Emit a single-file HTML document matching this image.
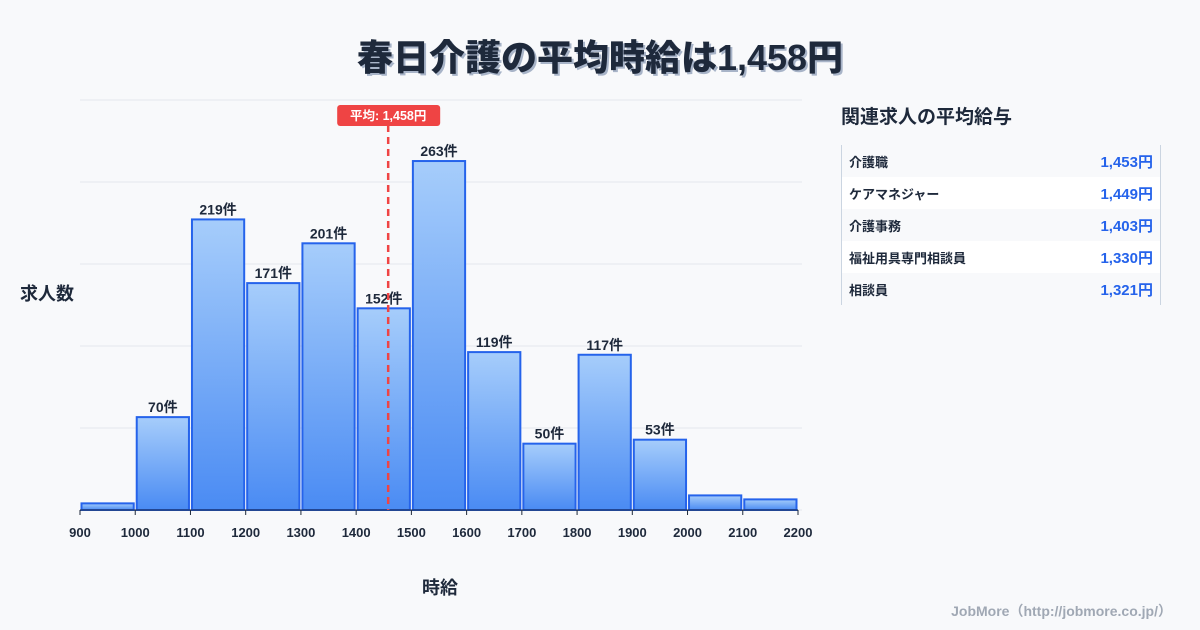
<!DOCTYPE html>
<html><head><meta charset="utf-8">
<style>
body{margin:0;background:#f8f9fb;font-family:"Liberation Sans","Noto Sans CJK JP",sans-serif;}
#wrap{position:relative;width:1200px;height:630px;overflow:hidden;background:#f8f9fb;}
.title{position:absolute;left:0;width:1200px;top:29px;text-align:center;font-size:36px;font-weight:900;color:#1e293b;text-shadow:2px 2px 0 #a8b4c8;}
.panel-title{position:absolute;left:841px;top:102px;font-size:19px;font-weight:700;color:#1e293b;}
.panel{position:absolute;left:841px;top:145px;width:318px;border-left:1px solid #cbd5e1;border-right:1px solid #cbd5e1;}
.row{height:32px;display:flex;justify-content:space-between;align-items:center;padding:0 7px;font-size:13px;font-weight:700;color:#1e293b;}
.row:nth-child(even){background:#fff;}
.row span:last-child{color:#2563eb;font-size:15px;}
.credit{position:absolute;right:28px;top:601px;font-size:14px;font-weight:700;color:#a0a8b4;}
</style></head><body>
<div id="wrap">
<div class="title">春日介護の平均時給は1,458円</div>
<svg id="chart" width="1200" height="630" style="position:absolute;left:0;top:0"></svg>
<div class="panel-title">関連求人の平均給与</div>
<div class="panel">
<div class="row"><span>介護職</span><span>1,453円</span></div>
<div class="row"><span>ケアマネジャー</span><span>1,449円</span></div>
<div class="row"><span>介護事務</span><span>1,403円</span></div>
<div class="row"><span>福祉用具専門相談員</span><span>1,330円</span></div>
<div class="row"><span>相談員</span><span>1,321円</span></div>
</div>
<div class="credit">JobMore（http://jobmore.co.jp/）</div>
</div>
<script>
const binStarts=[900,1000,1100,1200,1300,1400,1500,1600,1700,1800,1900,2000,2100];
const counts=[5,70,219,171,201,152,263,119,50,117,53,11,8];
const showLabel=[false,true,true,true,true,true,true,true,true,true,true,false,false];
const xTicks=[900,1000,1100,1200,1300,1400,1500,1600,1700,1800,1900,2000,2100,2200];
const avgValue=1458;
const yMax=309;
const NS="http://www.w3.org/2000/svg";
const svg=document.getElementById('chart');
const L=80,R=798,T=100,B=510;
const x=v=>L+(v-900)/(2200-900)*(R-L);
const y=v=>B-v/yMax*(B-T);
function mk(t,a){const e=document.createElementNS(NS,t);for(const k in a)e.setAttribute(k,a[k]);svg.appendChild(e);return e;}
const defs=mk('defs',{});
defs.innerHTML='<linearGradient id="g" x1="0" y1="0" x2="0" y2="1"><stop offset="0" stop-color="#a6cdfb"/><stop offset="1" stop-color="#4a8bf3"/></linearGradient>';
for(let i=0;i<=5;i++){const gy=T+i*(B-T)/5;const g=mk('line',{x1:L,x2:R+4,y1:gy,y2:gy,stroke:'#e5e8ee','stroke-width':1});
}
binStarts.forEach((s,i)=>{
const x0=x(s)+1.5,x1=x(s+100)-1.5,yt=y(counts[i]);
const r=mk('rect',{x:x0,y:yt,width:x1-x0,height:B-yt,fill:'url(#g)',stroke:'#2563eb','stroke-width':2});


if(showLabel[i]){const t=mk('text',{x:(x0+x1)/2,y:yt-5,'text-anchor':'middle','font-size':14,'font-weight':700,fill:'#1e293b'});t.textContent=counts[i]+'件';
}
});
mk('line',{x1:L,x2:R,y1:B,y2:B,stroke:'#1e293b','stroke-width':1});
xTicks.forEach(v=>{mk('line',{x1:x(v),x2:x(v),y1:B,y2:B+5,stroke:'#1e293b','stroke-width':1});
const t=mk('text',{x:x(v),y:B+27,'text-anchor':'middle','font-size':13,'font-weight':700,fill:'#1e293b'});t.textContent=v;
});
const ax=x(avgValue);
const al=mk('line',{x1:ax,x2:ax,y1:125,y2:B,stroke:'#ef4444','stroke-width':2.5,'stroke-dasharray':'7,5'});

const ab=mk('rect',{x:ax-51,y:105,width:103,height:21,rx:3,fill:'#ef4444'});

const at=mk('text',{x:ax,y:120,'text-anchor':'middle','font-size':12.5,'font-weight':700,fill:'#fff'});at.textContent='平均: 1,458円';

const yt=mk('text',{x:20,y:300,'font-size':18,'font-weight':700,fill:'#1e293b'});yt.textContent='求人数';

const xt=mk('text',{x:440,y:594,'text-anchor':'middle','font-size':18,'font-weight':700,fill:'#1e293b'});xt.textContent='時給';

</script>
</body></html>
